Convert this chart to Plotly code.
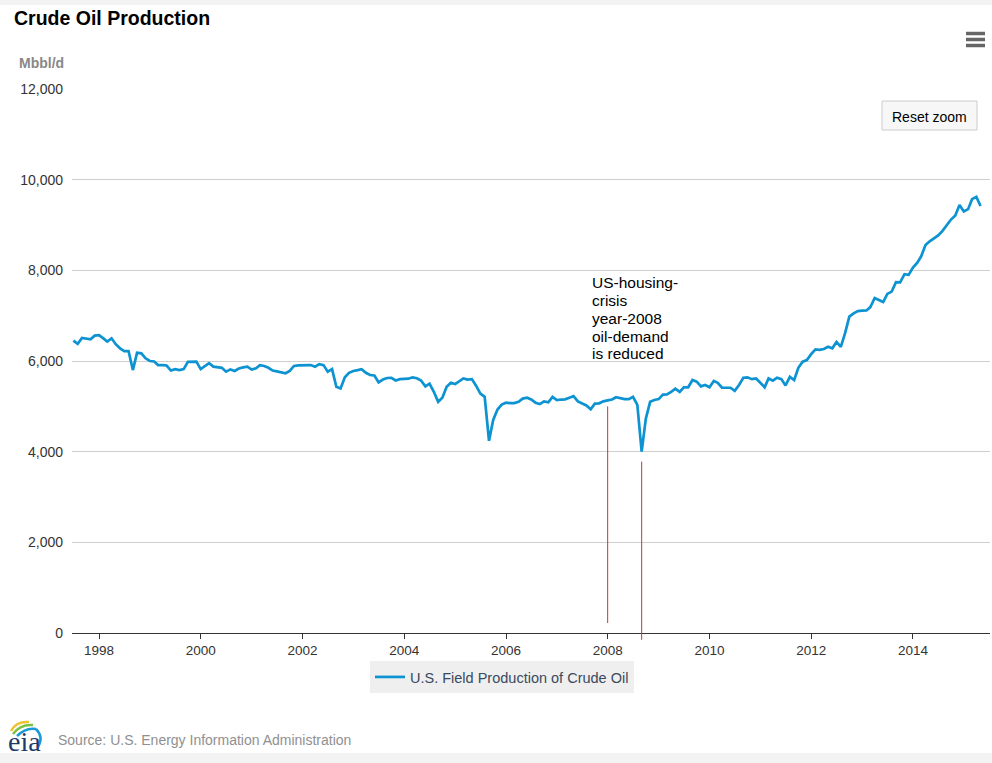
import pandas as pd
import plotly.graph_objects as go

# Monthly U.S. field production of crude oil, Mbbl/d
v1997 = [6450, 6380, 6510, 6490, 6480, 6560]  # Jul-Dec
v1998 = [6570, 6500, 6430, 6500, 6370, 6280, 6220, 6220, 5800, 6180, 6170, 6060]
v1999 = [6000, 5990, 5910, 5910, 5900, 5790, 5820, 5800, 5820, 5980, 5985, 5985]
v2000 = [5820, 5880, 5950, 5875, 5860, 5850, 5765, 5815, 5780, 5835, 5860, 5875]
v2001 = [5810, 5840, 5910, 5890, 5850, 5790, 5770, 5750, 5730, 5780, 5890, 5905]
v2002 = [5905, 5900, 5910, 5875, 5930, 5910, 5765, 5820, 5430, 5395, 5640, 5740]
v2003 = [5780, 5800, 5820, 5740, 5690, 5680, 5530, 5590, 5625, 5630, 5570, 5600]
v2004 = [5600, 5610, 5640, 5620, 5570, 5440, 5500, 5320, 5100, 5190, 5430, 5520]
v2005 = [5490, 5560, 5615, 5590, 5600, 5450, 5280, 5210, 4240, 4700, 4930, 5040]
v2006 = [5080, 5070, 5070, 5100, 5170, 5190, 5150, 5080, 5050, 5110, 5090, 5210]
v2007 = [5140, 5150, 5155, 5190, 5225, 5110, 5060, 5020, 4935, 5060, 5066, 5110]
v2008 = [5130, 5150, 5200, 5180, 5160, 5160, 5210, 5030, 4000, 4730, 5100, 5140]
v2009 = [5160, 5260, 5265, 5320, 5390, 5320, 5420, 5420, 5580, 5545, 5440, 5470]
v2010 = [5420, 5560, 5520, 5410, 5410, 5410, 5340, 5470, 5630, 5640, 5600, 5615]
v2011 = [5520, 5420, 5615, 5565, 5630, 5600, 5460, 5650, 5580, 5850, 5985, 6020]
v2012 = [6150, 6255, 6245, 6265, 6315, 6280, 6420, 6310, 6620, 6980, 7050, 7100]
v2013 = [7110, 7115, 7190, 7390, 7345, 7300, 7480, 7530, 7740, 7735, 7915, 7900]
v2014 = [8060, 8170, 8310, 8560, 8640, 8700, 8770, 8870, 9000, 9120, 9210, 9440]
v2015 = [9300, 9350, 9570, 9620, 9420]  # Jan-May

produccion = (v1997 + v1998 + v1999 + v2000 + v2001 + v2002 + v2003 + v2004 + v2005
              + v2006 + v2007 + v2008 + v2009 + v2010 + v2011 + v2012 + v2013
              + v2014 + v2015)
fechas = pd.date_range("1997-07-01", periods=len(produccion), freq="MS")

# red marker lines: date, top value, bottom value
marcas_fecha = ["2008-01-01", "2008-09-01"]
marcas_top = [5000, 3780]
marcas_bottom = [220, -150]

nota_lineas = ["US-housing-", "crisis", "year-2008", "oil-demand", "is reduced"]

# plot area in pixels
L, R, T, B = 72, 990, 89, 633
W, H = 992, 763


def px(x):
    return (x - L) / (R - L)


def py(y):
    return (B - y) / (B - T)


FUENTE = "Liberation Sans, Arial, sans-serif"
AZUL = "#0d93d2"

fig = go.Figure()
fig.add_trace(go.Scatter(
    x=fechas, y=produccion, mode="lines",
    name="U.S. Field Production of Crude Oil",
    line=dict(color=AZUL, width=2.7),
))

shapes = []
for f, top, bot in zip(marcas_fecha, marcas_top, marcas_bottom):
    shapes.append(dict(type="line", xref="x", yref="paper", x0=f, x1=f,
                       y0=bot / 12000, y1=top / 12000,
                       line=dict(color="#c8382a", width=1)))

# page strips top and bottom
shapes.append(dict(type="rect", xref="paper", yref="paper", layer="below",
                   x0=px(0), x1=px(W), y0=py(0), y1=py(5),
                   fillcolor="#f3f3f3", line=dict(width=0)))
shapes.append(dict(type="rect", xref="paper", yref="paper", layer="below",
                   x0=px(0), x1=px(W), y0=py(753), y1=py(H),
                   fillcolor="#f3f3f3", line=dict(width=0)))

# menu icon
for yy in [33.5, 39.5, 45.5]:
    shapes.append(dict(type="line", xref="paper", yref="paper",
                       x0=px(966), x1=px(985), y0=py(yy), y1=py(yy),
                       line=dict(color="#666666", width=3.5)))

# reset zoom button
shapes.append(dict(type="rect", xref="paper", yref="paper",
                   x0=px(882), x1=px(977), y0=py(101), y1=py(130),
                   fillcolor="#f7f7f7", line=dict(color="#cccccc", width=1)))

# eia logo arcs
def arco(p0, c, p1, color):
    d = "M %f,%f Q %f,%f %f,%f" % (px(p0[0]), py(p0[1]), px(c[0]), py(c[1]),
                                   px(p1[0]), py(p1[1]))
    return dict(type="path", xref="paper", yref="paper", path=d,
                line=dict(color=color, width=2.5))

shapes.append(arco((11, 731), (16, 721), (29, 722), "#f2c12e"))
shapes.append(arco((13, 734), (20, 724), (33, 725), "#7cc242"))
shapes.append(arco((17, 736), (26, 727), (36, 729), "#1b9ad6"))
shapes.append(arco((36, 729), (44, 737), (38, 747), "#1b9ad6"))

annotations = []
for i, t in enumerate(nota_lineas):
    annotations.append(dict(text=t, xref="paper", yref="paper",
                            x=px(590), y=py(282.8 + i * 17.75),
                            xanchor="left", yanchor="middle", showarrow=False,
                            font=dict(family=FUENTE, size=15.5, color="#000000")))

annotations += [
    dict(text="<b>Mbbl/d</b>", xref="paper", yref="paper", x=px(17), y=py(63),
         xanchor="left", yanchor="middle", showarrow=False,
         font=dict(family=FUENTE, size=14, color="#888888")),
    dict(text="Reset zoom", xref="paper", yref="paper", x=px(929.5), y=py(116.5),
         xanchor="center", yanchor="middle", showarrow=False,
         font=dict(family=FUENTE, size=14, color="#000000")),
    dict(text="Source: U.S. Energy Information Administration", xref="paper",
         yref="paper", x=px(56), y=py(740), xanchor="left", yanchor="middle",
         showarrow=False, font=dict(family=FUENTE, size=14, color="#909090")),
    dict(text="eia", xref="paper", yref="paper", x=px(6), y=py(741),
         xanchor="left", yanchor="middle", showarrow=False,
         font=dict(family="Liberation Serif, Times New Roman, serif", size=28,
                   color="#1b3c6b")),
]

fig.update_layout(
    width=W, height=H,
    margin=dict(l=L, r=W - R, t=T, b=H - B),
    paper_bgcolor="white", plot_bgcolor="white",
    title=dict(text="<b>Crude Oil Production</b>", xref="container", yref="container",
               x=14 / W, y=1 - 18 / H, xanchor="left", yanchor="middle",
               font=dict(family=FUENTE, size=19.5, color="#000000")),
    xaxis=dict(
        type="date",
        range=["1997-06-21", "2015-07-08"],
        tick0="1998-01-01", dtick="M24", tickformat="%Y",
        showgrid=False, showline=True, linecolor="#333333", linewidth=1,
        ticks="outside", ticklen=5, tickcolor="#333333",
        tickfont=dict(family=FUENTE, size=13.5, color="#333333"),
        zeroline=False,
    ),
    yaxis=dict(
        range=[0, 12000], dtick=2000, tickformat=",",
        showgrid=True, gridcolor="#cfcfcf", gridwidth=1,
        zeroline=False, showline=False,
        tickfont=dict(family=FUENTE, size=14, color="#333333"),
        ticklabelstandoff=8,
    ),
    legend=dict(
        orientation="h", x=px(502), xanchor="center", y=py(661), yanchor="top",
        bgcolor="#efefef", borderwidth=0,
        font=dict(family=FUENTE, size=14.5, color="#3a4a5e"),
    ),
    showlegend=True,
    shapes=shapes,
    annotations=annotations,
)

# the page has a default 8px body margin; remove it so the chart sits at 0,0
fig.write_html("out.html", config={"displayModeBar": False},
               post_script="document.body.style.margin='0px';")
